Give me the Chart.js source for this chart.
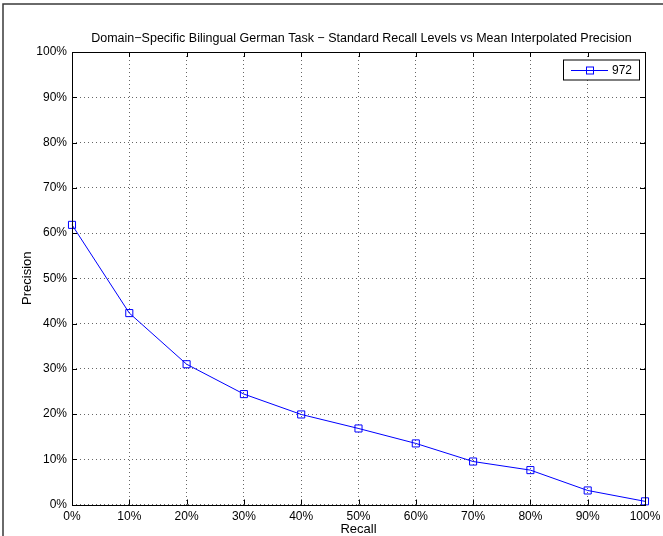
<!DOCTYPE html>
<html>
<head>
<meta charset="utf-8">
<script src="https://cdn.jsdelivr.net/npm/chart.js@4/dist/chart.umd.min.js"></script>
<style>
html,body{margin:0;padding:0;background:#fff;}
#wrap{width:663px;height:536px;position:relative;}
</style>
</head>
<body>
<div id="wrap"><canvas id="c" width="663" height="536"></canvas></div>
<script>
const titleText = "Domain\u2212Specific Bilingual German Task \u2212 Standard Recall Levels vs Mean Interpolated Precision";
const xLabel = "Recall";
const yLabel = "Precision";
const seriesName = "972";
const recallLevels = [0, 10, 20, 30, 40, 50, 60, 70, 80, 90, 100];
const precisionValues = [61.8, 42.3, 31.0, 24.4, 19.9, 16.8, 13.5, 9.5, 7.6, 3.1, 0.7];
const tickValues = [0, 10, 20, 30, 40, 50, 60, 70, 80, 90, 100];

const FONT = '"Liberation Sans", Arial, Helvetica, sans-serif';

const decor = {
  id: 'decor',
  beforeDraw(chart) {
    const ctx = chart.ctx;
    ctx.save();
    ctx.fillStyle = '#fff';
    ctx.fillRect(0, 0, chart.width, chart.height);
    ctx.strokeStyle = '#3a3a3a';
    ctx.lineWidth = 1.5;
    ctx.beginPath();
    ctx.moveTo(3, 536);
    ctx.lineTo(3, 4);
    ctx.lineTo(663, 4);
    ctx.stroke();
    ctx.restore();
  },
  afterDatasetsDraw(chart) {
    const ctx = chart.ctx;
    const a = chart.chartArea;
    const xs = chart.scales.x, ys = chart.scales.y;
    ctx.save();
    ctx.strokeStyle = '#000';
    ctx.lineWidth = 1;
    ctx.strokeRect(Math.round(a.left) + 0.5, Math.round(a.top) + 0.5, Math.round(a.right - a.left), Math.round(a.bottom - a.top));
    ctx.beginPath();
    const tl = 5;
    tickValues.forEach(v => {
      const x = Math.round(xs.getPixelForValue(v)) + 0.5;
      ctx.moveTo(x, a.bottom); ctx.lineTo(x, a.bottom - tl);
      ctx.moveTo(x, a.top); ctx.lineTo(x, a.top + tl);
      const y = Math.round(ys.getPixelForValue(v)) + 0.5;
      ctx.moveTo(a.left, y); ctx.lineTo(a.left + tl, y);
      ctx.moveTo(a.right, y); ctx.lineTo(a.right - tl, y);
    });
    ctx.stroke();
    ctx.fillStyle = '#000';
    ctx.font = '12.5px ' + FONT;
    ctx.textAlign = 'center';
    ctx.textBaseline = 'middle';
    ctx.fillText(titleText, (a.left + a.right) / 2 + 3, 39);
    ctx.font = '13px ' + FONT;
    ctx.fillText(xLabel, (a.left + a.right) / 2, 529);
    ctx.save();
    ctx.translate(27, (a.top + a.bottom) / 2);
    ctx.rotate(-Math.PI / 2);
    ctx.fillText(yLabel, 0, 0);
    ctx.restore();
    const ds = chart.data.datasets[0];
    const lx = 563, ly = 59.5, lw = 76, lh = 20;
    ctx.fillStyle = '#fff';
    ctx.fillRect(lx, ly, lw, lh);
    ctx.strokeStyle = '#000';
    ctx.lineWidth = 1;
    ctx.strokeRect(lx + 0.5, ly + 0.5, lw, lh);
    const cy = Math.round(ly + lh / 2) + 0.5;
    ctx.strokeStyle = ds.borderColor;
    ctx.beginPath();
    ctx.moveTo(571, cy); ctx.lineTo(608, cy);
    ctx.stroke();
    ctx.strokeRect(586.5, cy - 3.5, 7, 7);
    ctx.fillStyle = '#000';
    ctx.font = '12px ' + FONT;
    ctx.textAlign = 'left';
    ctx.fillText(ds.label, 612, cy);
    ctx.restore();
  }
};

new Chart(document.getElementById('c'), {
  type: 'line',
  data: {
    datasets: [{
      label: seriesName,
      data: recallLevels.map((r, i) => ({ x: r, y: precisionValues[i] })),
      borderColor: '#0000ff',
      backgroundColor: 'rgba(0,0,0,0)',
      borderWidth: 1,
      pointStyle: 'rect',
      pointRadius: 5,
      pointBorderWidth: 1,
      pointBackgroundColor: 'rgba(0,0,0,0)',
      pointBorderColor: '#0000ff',
      tension: 0,
      clip: false
    }]
  },
  options: {
    responsive: false,
    animation: false,
    devicePixelRatio: 1,
    layout: { padding: { left: 0, top: 52, right: 18, bottom: 0 } },
    plugins: { legend: { display: false }, title: { display: false }, tooltip: { enabled: false } },
    scales: {
      x: {
        type: 'linear', min: 0, max: 100,
        afterBuildTicks: s => { s.ticks = tickValues.map(v => ({ value: v })); },
        afterFit: s => { s.height = 31.5; s.paddingLeft = 0; s.paddingRight = 0; },
        ticks: { callback: v => v + '%', color: '#000', font: { family: FONT, size: 12 }, padding: 5, maxRotation: 0, autoSkip: false },
        grid: { color: '#666', lineWidth: 1, drawTicks: false, tickLength: 0 },
        border: { display: false, dash: [1, 3] }
      },
      y: {
        type: 'linear', min: 0, max: 100,
        afterBuildTicks: s => { s.ticks = tickValues.map(v => ({ value: v })); },
        afterFit: s => { s.width = 72; s.paddingTop = 0; s.paddingBottom = 0; },
        ticks: { callback: v => v + '%', color: '#000', font: { family: FONT, size: 12 }, padding: 5, autoSkip: false },
        grid: { color: '#666', lineWidth: 1, drawTicks: false, tickLength: 0 },
        border: { display: false, dash: [1, 3] }
      }
    }
  },
  plugins: [decor]
});
</script>
</body>
</html>
